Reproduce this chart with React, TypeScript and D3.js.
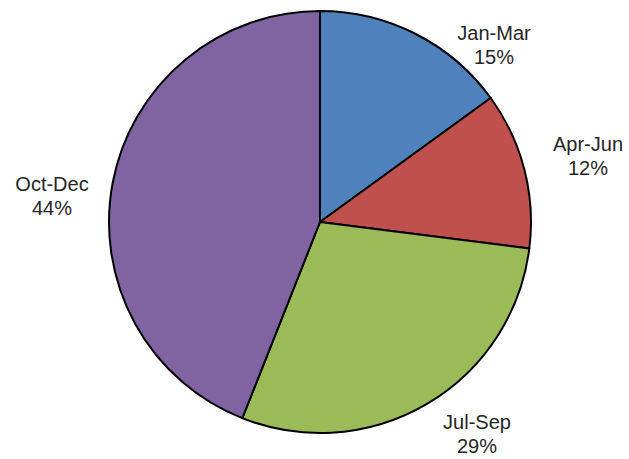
import React from "react";
import * as d3 from "d3";

const categories = ["Jan-Mar", "Apr-Jun", "Jul-Sep", "Oct-Dec"];
const values = [15, 12, 29, 44];
const colors = ["#4F81BD", "#C0504D", "#9BBB59", "#8064A2"];

const W = 629;
const H = 459;
const cx = 320;
const cy = 222;
const R = 211;
// label anchor points (centre of the two-line label block)
const labelPos: [number, number][] = [
  [494, 45],
  [588, 156],
  [477, 434],
  [52, 196],
];

export default function App() {
  const pie = d3
    .pie<number>()
    .sort(null)
    .value((d) => d)
    .startAngle(0)
    .endAngle(2 * Math.PI);
  const arcs = pie(values);
  const arc = d3.arc<d3.PieArcDatum<number>>().innerRadius(0).outerRadius(R);
  const total = d3.sum(values);

  return (
    <svg
      width={W}
      height={H}
      style={{ position: "absolute", left: 0, top: 0, background: "#fff" }}
      fontFamily="'Liberation Sans', Arial, sans-serif"
    >
      <g transform={`translate(${cx},${cy})`}>
        {arcs.map((a, i) => (
          <path
            key={categories[i]}
            d={arc(a) || ""}
            fill={colors[i]}
            stroke="#000"
            strokeWidth={2}
            strokeLinejoin="round"
          />
        ))}
      </g>
      {arcs.map((a, i) => (
        <text
          key={"l" + categories[i]}
          x={labelPos[i][0]}
          y={labelPos[i][1]}
          textAnchor="middle"
          fontSize={20}
          fill="#262626"
        >
          <tspan x={labelPos[i][0]} dy={-5}>
            {categories[i]}
          </tspan>
          <tspan x={labelPos[i][0]} dy={24}>
            {Math.round((a.data / total) * 100)}%
          </tspan>
        </text>
      ))}
    </svg>
  );
}
